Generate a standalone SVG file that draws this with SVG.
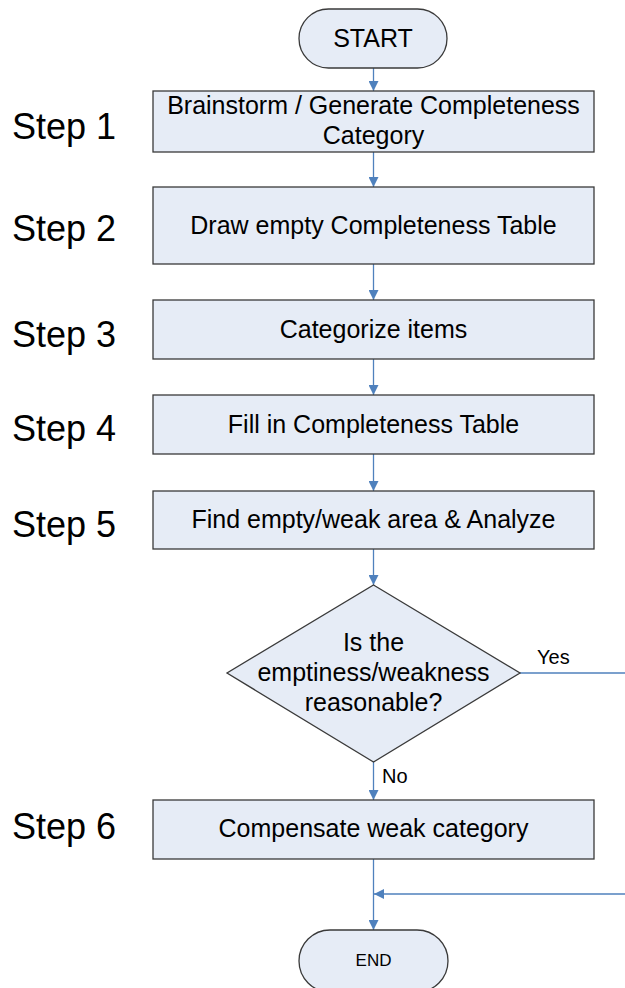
<svg xmlns="http://www.w3.org/2000/svg" width="625" height="988" viewBox="0 0 625 988">
  <style>
    .shape { fill: #e6ecf6; stroke: #3a3a3a; stroke-width: 1.3; }
    .label { font-family: "Liberation Sans", Arial, sans-serif; fill: #000; text-anchor: middle; }
    .box { font-size: 25px; }
    .step { font-family: "Liberation Sans", Arial, sans-serif; font-size: 36px; fill: #000; }
    .edge { stroke: #4f81bd; stroke-width: 1.3; fill: none; }
    .tag { font-family: "Liberation Sans", Arial, sans-serif; font-size: 20px; fill: #000; }
  </style>
  <defs>
    <marker id="arrow" viewBox="0 0 10 10" refX="10" refY="5" markerWidth="10" markerHeight="10" markerUnits="userSpaceOnUse" orient="auto">
      <path d="M0,0 L10,5 L0,10 Z" fill="#4f81bd"/>
    </marker>
  </defs>

  <rect width="625" height="988" fill="#ffffff"/>

  <!-- step labels -->
  <g id="step-labels">
    <text class="step" x="12" y="139">Step 1</text>
    <text class="step" x="12" y="241">Step 2</text>
    <text class="step" x="12" y="347">Step 3</text>
    <text class="step" x="12" y="441">Step 4</text>
    <text class="step" x="12" y="537">Step 5</text>
    <text class="step" x="12" y="839">Step 6</text>
  </g>

  <!-- connectors -->
  <g id="connectors">
    <line class="edge" x1="373.5" y1="68" x2="373.5" y2="91" marker-end="url(#arrow)"/>
    <line class="edge" x1="373.5" y1="152" x2="373.5" y2="187" marker-end="url(#arrow)"/>
    <line class="edge" x1="373.5" y1="264" x2="373.5" y2="300" marker-end="url(#arrow)"/>
    <line class="edge" x1="373.5" y1="359" x2="373.5" y2="395" marker-end="url(#arrow)"/>
    <line class="edge" x1="373.5" y1="454" x2="373.5" y2="491" marker-end="url(#arrow)"/>
    <line class="edge" x1="373.5" y1="549" x2="373.5" y2="585" marker-end="url(#arrow)"/>
    <line class="edge" x1="373.5" y1="762" x2="373.5" y2="800" marker-end="url(#arrow)"/>
    <line class="edge" x1="373.5" y1="859" x2="373.5" y2="930" marker-end="url(#arrow)"/>
    <polyline class="edge" points="520,673 625,673"/>
    <line class="edge" x1="625" y1="894" x2="374" y2="894" marker-end="url(#arrow)"/>
    <text class="tag" x="537" y="664">Yes</text>
    <text class="tag" x="382" y="783">No</text>
  </g>

  <g id="start">
    <rect class="shape" x="299" y="9" width="148" height="59" rx="29.5" ry="29.5"/>
    <text class="label" x="373" y="47" font-size="25">START</text>
  </g>

  <g id="step1">
    <rect class="shape" x="153" y="91" width="441" height="61"/>
    <text class="label box" x="373.5" y="114">Brainstorm / Generate Completeness</text>
    <text class="label box" x="373.5" y="144">Category</text>
  </g>

  <g id="step2">
    <rect class="shape" x="153" y="187" width="441" height="77"/>
    <text class="label box" x="373.5" y="234">Draw empty Completeness Table</text>
  </g>

  <g id="step3">
    <rect class="shape" x="153" y="300" width="441" height="59"/>
    <text class="label box" x="373.5" y="338">Categorize items</text>
  </g>

  <g id="step4">
    <rect class="shape" x="153" y="395" width="441" height="59"/>
    <text class="label box" x="373.5" y="433">Fill in Completeness Table</text>
  </g>

  <g id="step5">
    <rect class="shape" x="153" y="491" width="441" height="58"/>
    <text class="label box" x="373.5" y="528">Find empty/weak area &amp; Analyze</text>
  </g>

  <g id="decision">
    <polygon class="shape" points="373.5,585 520,673 373.5,762 227,673"/>
    <text class="label box" x="373.5" y="651">Is the</text>
    <text class="label box" x="373.5" y="681">emptiness/weakness</text>
    <text class="label box" x="373.5" y="711">reasonable?</text>
  </g>

  <g id="step6">
    <rect class="shape" x="153" y="800" width="441" height="59"/>
    <text class="label box" x="373.5" y="837">Compensate weak category</text>
  </g>

  <g id="end">
    <rect class="shape" x="299" y="930" width="149" height="62" rx="31" ry="31"/>
    <text class="label" x="373.5" y="966" font-size="17">END</text>
  </g>
</svg>
